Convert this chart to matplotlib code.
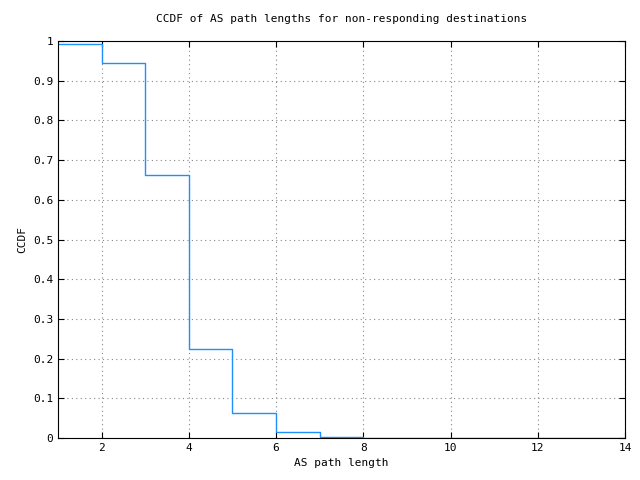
import matplotlib
matplotlib.use("Agg")
from matplotlib import pyplot as plt

# step edges and CCDF values
path_len = [1, 2, 3, 4, 5, 6, 7, 8, 14]
ccdf = [0.992, 0.945, 0.663, 0.224, 0.063, 0.015, 0.003, 0.0, 0.0]

plt.rcParams["font.family"] = "DejaVu Sans Mono"
plt.rcParams["font.size"] = 8

fig = plt.figure(figsize=(6.4, 4.8), dpi=100)
ax = fig.add_axes([58 / 640, 1 - 438 / 480, (625 - 58) / 640, (438 - 41) / 480])
ax.step(path_len, ccdf, where="post", color="#1f8fff", linewidth=1)
ax.set_xlim(1, 14)
ax.set_ylim(0, 1)
ax.set_xticks([2, 4, 6, 8, 10, 12, 14])
ax.set_yticks([0, 0.1, 0.2, 0.3, 0.4, 0.5, 0.6, 0.7, 0.8, 0.9, 1])
ax.set_yticklabels(["0", "0.1", "0.2", "0.3", "0.4", "0.5", "0.6", "0.7", "0.8", "0.9", "1"])
ax.grid(True, color="#888888", linestyle=(0, (1, 3)), linewidth=0.8)
ax.tick_params(direction="in", length=4, top=True, right=True)
ax.set_xlabel("AS path length")
ax.set_ylabel("CCDF")
ax.set_title("CCDF of AS path lengths for non-responding destinations", fontsize=8, pad=14)
fig.savefig("out.png", dpi=100)
